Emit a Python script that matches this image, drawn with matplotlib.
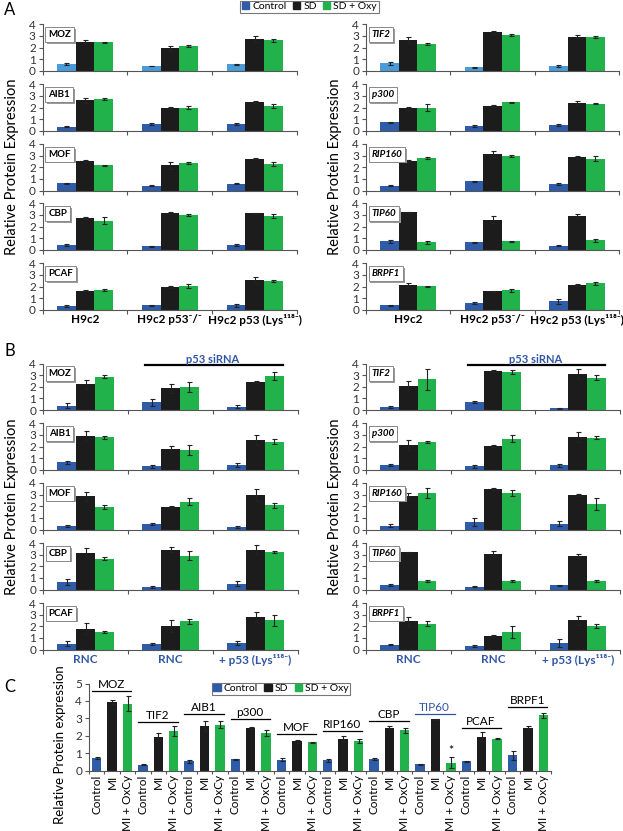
import numpy as np
import matplotlib.pyplot as plt
from matplotlib.patches import Patch
from matplotlib import patheffects

plt.rcParams['font.family'] = ['Lato', 'DejaVu Sans']

# ---- panel A data (rows = genes, cols = cell lines) ----
A_LEFT_GENES = ['MOZ', 'AIB1', 'MOF', 'CBP', 'PCAF']
A_LEFT_CTRL = [[0.58, 0.40, 0.55], [0.35, 0.58, 0.60], [0.63, 0.43, 0.58], [0.43, 0.30, 0.43], [0.34, 0.40, 0.40]]
A_LEFT_SD = [[2.50, 1.93, 2.73], [2.62, 1.93, 2.45], [2.56, 2.16, 2.73], [2.71, 3.14, 3.14], [1.66, 1.94, 2.57]]
A_LEFT_OXY = [[2.45, 2.13, 2.62], [2.76, 2.00, 2.13], [2.18, 2.35, 2.30], [2.51, 2.97, 2.91], [1.71, 2.06, 2.46]]
A_LEFT_CTRL_ERR = [[0.05, 0.03, 0.05], [0.05, 0.08, 0.08], [0.05, 0.05, 0.05], [0.10, 0.05, 0.10], [0.07, 0.05, 0.12]]
A_LEFT_SD_ERR = [[0.15, 0.20, 0.28], [0.20, 0.08, 0.10], [0.10, 0.30, 0.05], [0.08, 0.07, 0.06], [0.07, 0.07, 0.25]]
A_LEFT_OXY_ERR = [[0.07, 0.07, 0.15], [0.08, 0.15, 0.15], [0.05, 0.10, 0.18], [0.28, 0.08, 0.18], [0.10, 0.18, 0.07]]

A_RIGHT_GENES = ['TIF2', 'p300', 'RIP160', 'TIP60', 'BRPF1']
A_RIGHT_CTRL = [[0.63, 0.29, 0.40], [0.72, 0.43, 0.49], [0.40, 0.78, 0.55], [0.72, 0.66, 0.35], [0.37, 0.58, 0.72]]
A_RIGHT_SD = [[2.65, 3.31, 2.93], [1.93, 2.13, 2.39], [2.56, 3.14, 2.85], [3.22, 2.59, 2.94], [2.16, 1.58, 2.16]]
A_RIGHT_OXY = [[2.30, 3.08, 2.93], [1.99, 2.45, 2.33], [2.79, 2.99, 2.73], [0.66, 0.72, 0.81], [2.01, 1.67, 2.27]]
A_RIGHT_CTRL_ERR = [[0.10, 0.05, 0.07], [0.05, 0.08, 0.10], [0.05, 0.05, 0.10], [0.10, 0.05, 0.05], [0.07, 0.05, 0.20]]
A_RIGHT_SD_ERR = [[0.28, 0.15, 0.15], [0.10, 0.05, 0.20], [0.10, 0.30, 0.12], [0.05, 0.30, 0.18], [0.18, 0.08, 0.08]]
A_RIGHT_OXY_ERR = [[0.10, 0.05, 0.08], [0.28, 0.05, 0.05], [0.08, 0.10, 0.20], [0.12, 0.07, 0.12], [0.05, 0.15, 0.12]]

A_GROUPS = ['H9c2', 'H9c2 p53⁻/⁻', 'H9c2 p53 (Lys¹¹⁸⁻)']

# ---- panel B data ----
B_LEFT_CTRL = [[0.38, 0.65, 0.30], [0.63, 0.29, 0.43], [0.29, 0.51, 0.20], [0.66, 0.23, 0.51], [0.51, 0.46, 0.57]]
B_LEFT_SD = [[2.20, 1.87, 2.38], [2.91, 1.77, 2.57], [2.86, 1.94, 2.97], [3.14, 3.43, 3.43], [1.80, 2.03, 2.80]]
B_LEFT_OXY = [[2.88, 1.97, 2.90], [2.80, 1.71, 2.43], [1.94, 2.40, 2.09], [2.66, 2.91, 3.20], [1.51, 2.43, 2.51]]
B_LEFT_CTRL_ERR = [[0.20, 0.30, 0.10], [0.10, 0.10, 0.15], [0.10, 0.08, 0.10], [0.25, 0.10, 0.20], [0.20, 0.08, 0.20]]
B_LEFT_SD_ERR = [[0.40, 0.40, 0.10], [0.40, 0.28, 0.45], [0.40, 0.10, 0.50], [0.40, 0.20, 0.40], [0.45, 0.55, 0.40]]
B_LEFT_OXY_ERR = [[0.10, 0.45, 0.35], [0.12, 0.45, 0.25], [0.20, 0.30, 0.20], [0.10, 0.40, 0.10], [0.07, 0.20, 0.50]]

B_RIGHT_CTRL = [[0.27, 0.66, 0.15], [0.40, 0.29, 0.37], [0.34, 0.63, 0.51], [0.37, 0.23, 0.37], [0.43, 0.31, 0.57]]
B_RIGHT_SD = [[2.10, 3.34, 3.09], [2.14, 2.06, 2.83], [2.86, 3.49, 2.97], [3.20, 3.09, 2.91], [2.43, 1.14, 2.51]]
B_RIGHT_OXY = [[2.63, 3.26, 2.77], [2.40, 2.69, 2.77], [3.14, 3.14, 2.17], [0.71, 0.74, 0.71], [2.23, 1.51, 2.03]]
B_RIGHT_CTRL_ERR = [[0.10, 0.10, 0.05], [0.10, 0.10, 0.10], [0.10, 0.35, 0.20], [0.08, 0.03, 0.03], [0.08, 0.08, 0.35]]
B_RIGHT_SD_ERR = [[0.40, 0.10, 0.40], [0.45, 0.10, 0.45], [0.25, 0.05, 0.10], [0.05, 0.25, 0.15], [0.40, 0.08, 0.40]]
B_RIGHT_OXY_ERR = [[0.90, 0.20, 0.20], [0.10, 0.30, 0.15], [0.45, 0.25, 0.50], [0.10, 0.07, 0.10], [0.25, 0.50, 0.20]]

B_GROUPS = ['RNC', 'RNC', '+ p53 (Lys¹¹⁸⁻)']

# ---- panel C data ----
C_GENES = ['MOZ', 'TIF2', 'AIB1', 'p300', 'MOF', 'RIP160', 'CBP', 'TIP60', 'PCAF', 'BRPF1']
C_CTRL = [0.72, 0.32, 0.52, 0.65, 0.62, 0.58, 0.67, 0.35, 0.52, 0.87]
C_MI = [3.93, 1.95, 2.55, 2.45, 1.68, 1.83, 2.47, 2.95, 1.95, 2.47]
C_OXCY = [3.85, 2.25, 2.62, 2.15, 1.62, 1.70, 2.30, 0.45, 1.82, 3.18]
C_CTRL_ERR = [0.05, 0.03, 0.08, 0.02, 0.10, 0.10, 0.07, 0.03, 0.05, 0.25]
C_MI_ERR = [0.10, 0.18, 0.28, 0.05, 0.10, 0.18, 0.10, 0.03, 0.25, 0.08]
C_OXCY_ERR = [0.45, 0.28, 0.20, 0.18, 0.03, 0.10, 0.15, 0.30, 0.03, 0.15]
C_LABEL_Y = [4.58, 2.80, 3.27, 2.95, 2.08, 2.27, 2.87, 3.27, 2.44, 3.65]
C_TICKS = ['Control', 'MI', 'MI + OxCy']

BLUE = '#2E5CA8'
LIGHT_BLUE = '#4A9BD8'
BLACK = '#1C1C1C'
GREEN = '#22B24C'
TEXT_BLUE = '#2F55A4'
SPINE = '#555555'

W, H = 623, 831
fig = plt.figure(figsize=(W / 100, H / 100), dpi=100)


def px_axes(left, top, right, bottom):
    return fig.add_axes([left / W, 1 - bottom / H, (right - left) / W, (bottom - top) / H])


def style_axes(ax):
    for s in ['top', 'right']:
        ax.spines[s].set_visible(False)
    for s in ['left', 'bottom']:
        ax.spines[s].set_color(SPINE)
        ax.spines[s].set_linewidth(0.8)
    ax.tick_params(axis='y', length=3, width=0.8, color=SPINE, labelsize=8.5, labelcolor='#333333', pad=2)


def gene_box(ax, name, italic):
    style = 'italic' if italic else 'normal'
    t = ax.text(0.022, 0.78, name, transform=ax.transAxes, fontsize=7, fontweight='bold', style=style,
                va='center', ha='left', zorder=6,
                bbox=dict(boxstyle='square,pad=0.3', fc='white', ec='#888888', lw=0.7))
    t.get_bbox_patch().set_path_effects([
        patheffects.SimplePatchShadow(offset=(1.3, -1.3), shadow_rgbFace='#9a9a9a', alpha=1.0),
        patheffects.Normal()])


def draw_small(ax, ctrl, sd, oxy, ectrl, esd, eoxy, name, italic, ctrl_color):
    x = np.arange(3)
    w = 0.22
    ekw = dict(elinewidth=0.8, capsize=1.8, capthick=0.8, ecolor='#222222')
    ax.bar(x - w, ctrl, w, yerr=ectrl, color=ctrl_color, error_kw=ekw)
    ax.bar(x, sd, w, yerr=esd, color=BLACK, error_kw=ekw)
    ax.bar(x + w, oxy, w, yerr=eoxy, color=GREEN, error_kw=ekw)
    ax.set_xlim(-0.5, 2.5)
    ax.set_ylim(0, 4)
    ax.set_yticks([0, 1, 2, 3, 4])
    style_axes(ax)
    ax.set_xticks([0, 1, 2])
    ax.set_xticks([-0.5, 0.5, 1.5, 2.5], minor=True)
    ax.tick_params(axis='x', which='major', length=0)
    ax.tick_params(axis='x', which='minor', length=3, width=0.8, color=SPINE)
    ax.set_xticklabels([])
    gene_box(ax, name, italic)


row_tops_a = [24.3, 84.3, 144.0, 203.3, 263.3]
row_tops_b = [363.5, 423.3, 483.0, 543.0, 603.0]
row_h = 46.5

blocks = [
    (row_tops_a, 42.7, 297.0, A_LEFT_GENES, False, A_LEFT_CTRL, A_LEFT_SD, A_LEFT_OXY,
     A_LEFT_CTRL_ERR, A_LEFT_SD_ERR, A_LEFT_OXY_ERR, A_GROUPS, 'black', True),
    (row_tops_a, 366.0, 619.0, A_RIGHT_GENES, True, A_RIGHT_CTRL, A_RIGHT_SD, A_RIGHT_OXY,
     A_RIGHT_CTRL_ERR, A_RIGHT_SD_ERR, A_RIGHT_OXY_ERR, A_GROUPS, 'black', True),
    (row_tops_b, 43.0, 298.0, A_LEFT_GENES, False, B_LEFT_CTRL, B_LEFT_SD, B_LEFT_OXY,
     B_LEFT_CTRL_ERR, B_LEFT_SD_ERR, B_LEFT_OXY_ERR, B_GROUPS, TEXT_BLUE, False),
    (row_tops_b, 366.0, 620.0, A_RIGHT_GENES, True, B_RIGHT_CTRL, B_RIGHT_SD, B_RIGHT_OXY,
     B_RIGHT_CTRL_ERR, B_RIGHT_SD_ERR, B_RIGHT_OXY_ERR, B_GROUPS, TEXT_BLUE, False),
]

for (tops, left, right, genes, italic, ctrl, sd, oxy, ec, es, eo, groups, gcol, is_a) in blocks:
    for i, top in enumerate(tops):
        ax = px_axes(left, top, right, top + row_h)
        ccol = LIGHT_BLUE if (is_a and i == 0) else BLUE
        draw_small(ax, ctrl[i], sd[i], oxy[i], ec[i], es[i], eo[i], genes[i], italic, ccol)
        if i == len(tops) - 1:
            ax.set_xticklabels(groups, fontsize=8.5, fontweight='bold', color=gcol)
            ax.tick_params(axis='x', which='major', pad=3)
        if (not is_a) and i == 0:
            ax.plot([0.7, 2.32], [3.88, 3.88], color='black', lw=1.6, clip_on=False)
            ax.text(1.5, 4.35, 'p53 siRNA', color=TEXT_BLUE, fontsize=8, fontweight='bold',
                    ha='center', va='center', clip_on=False)
    fig.text((left - 31) / W, 1 - (tops[0] + tops[-1] + row_h) / 2 / H, 'Relative Protein Expression',
             rotation=90, ha='center', va='center', fontsize=10.5)

# ---- panel C ----
axc = px_axes(89, 683.5, 551, 770.5)
n = len(C_GENES)
pos = np.arange(3 * n)
vals, errs, cols = [], [], []
for g in range(n):
    vals += [C_CTRL[g], C_MI[g], C_OXCY[g]]
    errs += [C_CTRL_ERR[g], C_MI_ERR[g], C_OXCY_ERR[g]]
    cols += [BLUE, BLACK, GREEN]
axc.bar(pos, vals, 0.62, yerr=errs, color=cols,
        error_kw=dict(elinewidth=0.8, capsize=1.8, capthick=0.8, ecolor='#222222'))
axc.set_xlim(-0.5, 3 * n - 0.5)
axc.set_ylim(0, 5)
axc.set_yticks([0, 1, 2, 3, 4, 5])
style_axes(axc)
axc.set_xticks(pos)
axc.set_xticklabels(C_TICKS * n, rotation=90, fontsize=8.5)
axc.tick_params(axis='x', which='major', length=0, pad=3)
axc.set_xticks(np.arange(-0.5, 3 * n, 1), minor=True)
axc.tick_params(axis='x', which='minor', length=2.5, width=0.8, color=SPINE)
for g in range(n):
    col = TEXT_BLUE if C_GENES[g] == 'TIP60' else 'black'
    axc.plot([3 * g - 0.3, 3 * g + 2.25], [C_LABEL_Y[g], C_LABEL_Y[g]], color=col, lw=0.9, clip_on=False)
    axc.text(3 * g + 0.95, C_LABEL_Y[g] + 0.05, C_GENES[g], ha='center', va='bottom',
             fontsize=8.5, color=col, clip_on=False)
axc.text(3 * 7 + 2, C_OXCY[7] + C_OXCY_ERR[7] + 0.05, '*', ha='center', va='bottom', fontsize=9)
fig.text(60 / W, 1 - 745 / H, 'Relative Protein expression', rotation=90,
         ha='center', va='center', fontsize=9.5)

# ---- legends and panel letters ----
handles = [Patch(color=BLUE), Patch(color=BLACK), Patch(color=GREEN)]
names = ['Control', 'SD', 'SD + Oxy']
for cx, top in [(309.5, 0.5), (281.0, 682.5)]:
    leg = fig.legend(handles, names, loc='upper center', bbox_to_anchor=(cx / W, 1 - top / H),
                     ncol=3, fontsize=7.5, frameon=True, fancybox=False, borderpad=0.15,
                     handlelength=0.7, handleheight=0.7, handletextpad=0.3, columnspacing=0.6,
                     borderaxespad=0)
    leg.get_frame().set_edgecolor('#555555')
    leg.get_frame().set_linewidth(0.8)

for letter, y in [('A', 10), ('B', 351), ('C', 687)]:
    fig.text(4 / W, 1 - y / H, letter, fontsize=12, ha='left', va='center')

fig.savefig('out.png', dpi=100)
